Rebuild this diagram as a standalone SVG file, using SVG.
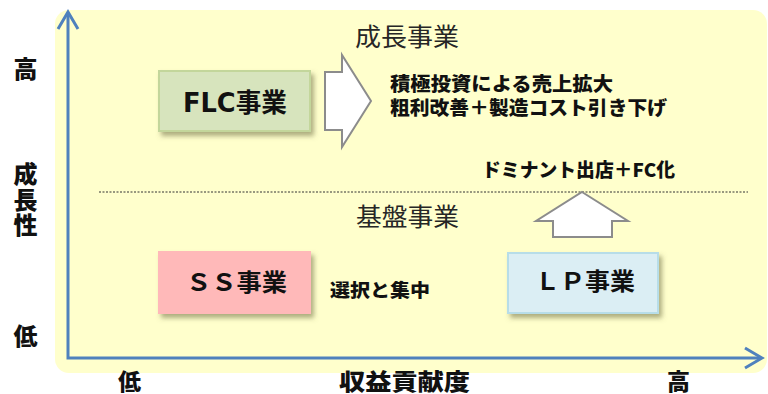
<svg xmlns="http://www.w3.org/2000/svg" width="768" height="394" viewBox="0 0 768 394">
<defs>
<style>
.lbl{font-family:"Noto Sans CJK JP",sans-serif;font-weight:900;fill:#111;}
.box{font-family:"DejaVu Sans","Noto Sans CJK JP",sans-serif;font-weight:700;fill:#111;}
.sec{font-family:"Noto Sans CJK JP",sans-serif;font-weight:400;fill:#262626;font-size:25px;}
.arr{fill:#fff;stroke:#8c8c8c;stroke-width:2;stroke-linejoin:miter;}
.axis{fill:none;stroke:#4f81bd;stroke-width:3;}
</style>
<filter id="sh" x="-10%" y="-20%" width="130%" height="150%">
<feDropShadow dx="3" dy="4" stdDeviation="2.5" flood-color="#6b6b3f" flood-opacity="0.55"/>
</filter>
</defs>
<rect x="55" y="10" width="712" height="363" rx="14" fill="#ffffcc"/>
<line x1="99" y1="192" x2="748" y2="192" stroke="#333" stroke-width="1" stroke-dasharray="2 1.5"/>
<g id="axes">
<polyline class="axis" points="68,13 68,358 761,358"/>
<polyline class="axis" points="58,29 68,12 78,29"/>
<polyline class="axis" points="745,348 762,358 745,368"/>
</g>
<g id="connectors">
<polygon class="arr" points="325,72 342,72 342,55 371,101 342,147 342,130 325,130"/>
<polygon class="arr" points="582,192 628,221 612,221 612,237 553,237 553,221 536,221"/>
</g>
<text class="sec" x="355" y="45.5" textLength="104" lengthAdjust="spacingAndGlyphs">成長事業</text>
<text class="sec" x="356" y="225.5" textLength="103" lengthAdjust="spacingAndGlyphs">基盤事業</text>
<g id="flc">
<rect x="159" y="71" width="151" height="60" fill="#d7e4bd" stroke="#c3d69b" stroke-width="2" filter="url(#sh)"/>
<text class="box" x="183" y="111.5" font-size="26" textLength="104" lengthAdjust="spacingAndGlyphs">FLC事業</text>
</g>
<g id="ss">
<rect x="159" y="252" width="151" height="61" fill="#ffb9b9" stroke="#ffb9b9" stroke-width="2" filter="url(#sh)"/>
<text class="box" x="186" y="291" font-size="24" textLength="101" lengthAdjust="spacingAndGlyphs">ＳＳ事業</text>
</g>
<g id="lp">
<rect x="508" y="253" width="150" height="60" fill="#dbeef4" stroke="#b7dde8" stroke-width="2" filter="url(#sh)"/>
<text class="box" x="535" y="290" font-size="24" textLength="100" lengthAdjust="spacingAndGlyphs">ＬＰ事業</text>
</g>
<g id="notes">
<text class="lbl" x="390" y="90.5" font-size="19" textLength="223" lengthAdjust="spacingAndGlyphs">積極投資による売上拡大</text>
<text class="lbl" x="390" y="115" font-size="19" textLength="277" lengthAdjust="spacingAndGlyphs">粗利改善＋製造コスト引き下げ</text>
<text class="lbl" x="482" y="176.5" font-size="19" textLength="193" lengthAdjust="spacingAndGlyphs">ドミナント出店＋FC化</text>
<text class="lbl" x="330" y="297" font-size="18" textLength="100" lengthAdjust="spacingAndGlyphs">選択と集中</text>
</g>
<g id="ylabels" class="lbl" font-size="24">
<text x="25.5" y="78" text-anchor="middle">高</text>
<text x="25.5" y="162" writing-mode="tb" letter-spacing="1.5">成長性</text>
<text x="25.5" y="345" text-anchor="middle">低</text>
</g>
<g id="xlabels" class="lbl" font-size="23">
<text x="118" y="390">低</text>
<text x="339" y="390" textLength="131" lengthAdjust="spacingAndGlyphs">収益貢献度</text>
<text x="667" y="390">高</text>
</g>
</svg>
